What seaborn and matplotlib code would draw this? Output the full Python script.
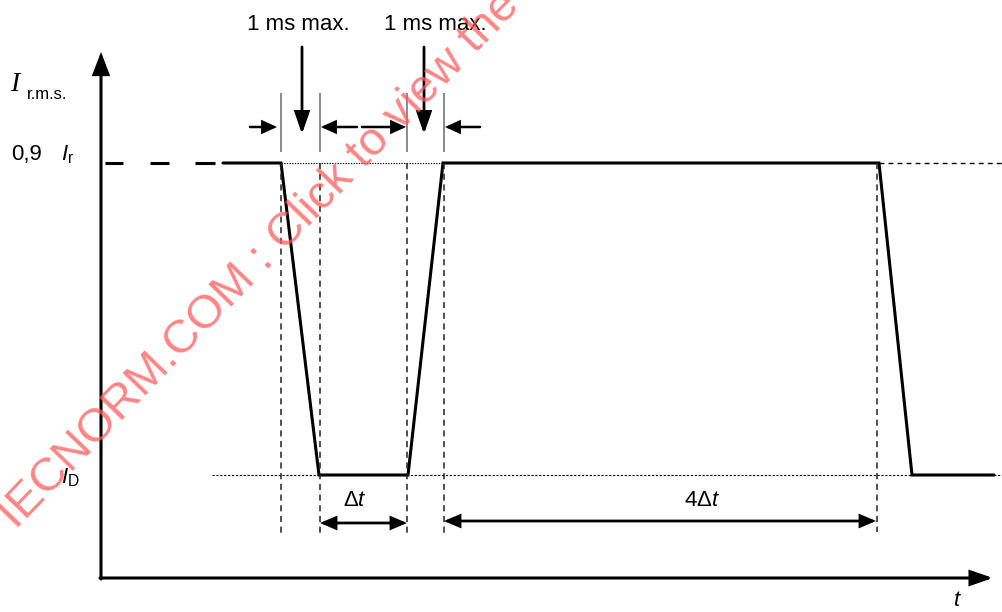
import numpy as np
import pandas as pd
import seaborn as sns
import matplotlib.pyplot as plt

# schematic coordinates (x = time position, y = level, screen-like units)
wave_t = [223, 281, 319, 408, 443, 879, 912, 994]
wave_i = [163, 163, 475, 475, 163, 163, 475, 475]
high_level = 163
low_level = 475

left_dash_start = [105, 150, 195]
left_dash_end = [123, 169, 215]

guide_x = [281, 320, 407, 444, 877]
guide_bottom = [533, 533, 533, 537, 532]

top_labels = ["1 ms max.", "1 ms max."]
top_label_x = [298, 435]
down_arrow_x = [302, 424]

sns.set_theme(style="white")
plt.rcParams['font.family'] = ['Liberation Sans', 'DejaVu Sans']
plt.rcParams['text.color'] = 'black'
plt.rcParams['mathtext.fontset'] = 'custom'
plt.rcParams['mathtext.rm'] = 'Liberation Sans'
plt.rcParams['mathtext.it'] = 'Liberation Sans:italic'

fig = plt.figure(figsize=(10.03, 6.12), dpi=100)
ax = fig.add_axes([0, 0, 1, 1])


def arrow(tail, tip, lw=2, hl=1.0, hw=0.4, style='-|>'):
    ax.annotate('', xy=tip, xytext=tail,
                arrowprops=dict(arrowstyle=f'{style},head_length={hl},head_width={hw}',
                                lw=lw, color='black', shrinkA=0, shrinkB=0,
                                joinstyle='miter'))


# waveform
wave = pd.DataFrame({'t': wave_t, 'i': wave_i})
sns.lineplot(data=wave, x='t', y='i', sort=False, estimator=None, color='black',
             lw=2.2, ax=ax)
ax.lines[-1].set_solid_joinstyle('miter')
ax.hlines([high_level] * len(left_dash_start), left_dash_start, left_dash_end,
          colors='black', lw=2.2)
ax.set_xlim(0, 1003)
ax.set_ylim(612, 0)
ax.axis('off')

# axes
arrow((101, 579), (101, 52), lw=2.2, hl=1.1, hw=0.42)
arrow((100, 578), (993, 578), lw=2.2, hl=1.1, hw=0.38)

# reference lines
ax.hlines(high_level, 281, 443, colors='black', lw=0.8, linestyles=(0, (1.2, 1.2)))
ax.hlines(high_level, 879, 1003, colors='black', lw=1.0, linestyles=(0, (3.5, 3)))
ax.hlines(low_level, 212, 1003, colors='black', lw=0.8, linestyles=(0, (2, 1.5)))
for x, yb in zip(guide_x, guide_bottom):
    ax.vlines(x, high_level, yb, colors='#222222', lw=1.1, linestyles=(0, (4, 3)))
for x in guide_x[:4]:
    ax.vlines(x, 93, 152, colors='#777777', lw=1.2)

# top annotations
for lab, x in zip(top_labels, top_label_x):
    ax.text(x, 24, lab, ha='center', va='center', fontsize=16)
for x in down_arrow_x:
    arrow((x, 47), (x, 134), lw=2, hl=1.1, hw=0.38)
arrow((250, 127), (277, 127), lw=1.8, hl=0.7, hw=0.32)
arrow((357, 127), (321, 127), lw=1.8, hl=0.7, hw=0.32)
arrow((362, 127), (406, 127), lw=1.8, hl=0.7, hw=0.32)
arrow((480, 127), (445, 127), lw=1.8, hl=0.7, hw=0.32)

# bottom dimension arrows
arrow((320, 523), (407, 523), lw=2, hl=0.75, hw=0.32, style='<|-|>')
arrow((444, 521), (876, 521), lw=2, hl=0.75, hw=0.32, style='<|-|>')
ax.text(355, 500, r'$\Delta\mathit{t}$', ha='center', va='center', fontsize=16)
ax.text(702, 500, r'$4\Delta\mathit{t}$', ha='center', va='center', fontsize=16)
ax.text(957, 600, r'$\mathit{t}$', ha='center', va='center', fontsize=16)

# axis labels
ax.text(10, 91, 'I', family='Liberation Serif', style='italic', fontsize=20,
        ha='left', va='baseline')
ax.text(27, 99, 'r.m.s.', fontsize=12, ha='left', va='baseline')
ax.text(11, 160, '0,9', fontsize=16, ha='left', va='baseline')
ax.text(61, 160, r'$\mathit{I}_\mathrm{r}$', fontsize=16, ha='left', va='baseline')
ax.text(61, 483, r'$\mathit{I}_\mathrm{D}$', fontsize=16, ha='left', va='baseline')

# watermark
ax.text(16, 530, 'IECNORM.COM : Click to view the full PDF of IEC 60255',
        rotation=46, rotation_mode='anchor', ha='left', va='baseline',
        fontsize=34, color='#ff5c5c', alpha=0.75, zorder=10)

fig.savefig('out.png', dpi=100)
